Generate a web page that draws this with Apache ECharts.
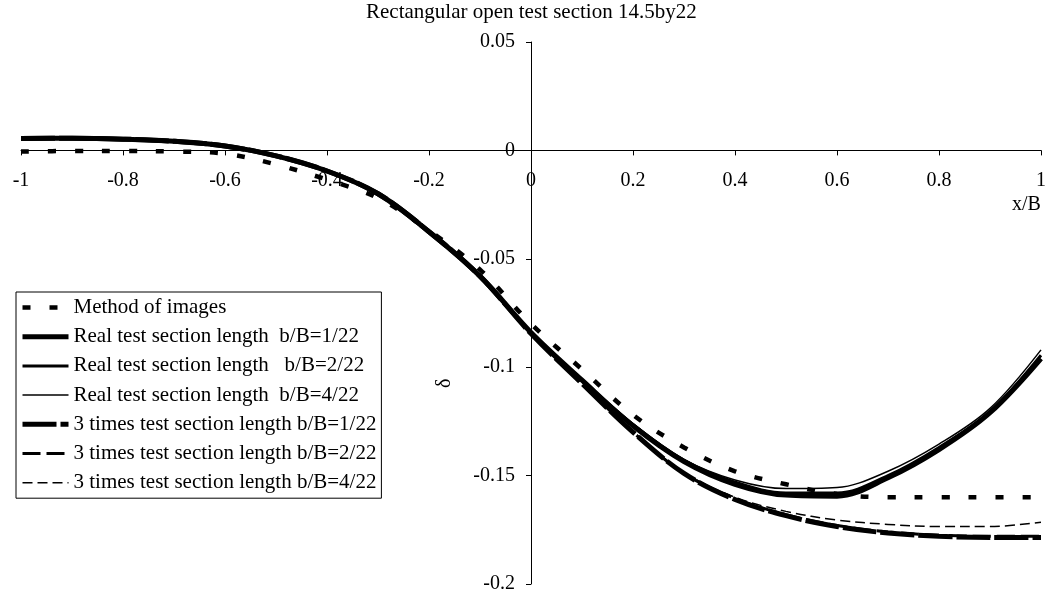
<!DOCTYPE html>
<html>
<head>
<meta charset="utf-8">
<script src="https://cdn.jsdelivr.net/npm/echarts@6/dist/echarts.min.js"></script>
<style>
html,body{margin:0;padding:0;background:#fff;}
#chart{width:1050px;height:597px;}
</style>
</head>
<body>
<div id="chart"></div>
<script>
const titleText = "Rectangular open test section 14.5by22";
const xValues = [-1, -0.9, -0.8, -0.7, -0.6, -0.5, -0.4, -0.3, -0.2, -0.1, 0, 0.1, 0.2, 0.3, 0.4, 0.5, 0.6, 0.7, 0.8, 0.9, 1];
const methodOfImages = [-0.0005, -0.0003, -0.0003, -0.0005, -0.0015, -0.0065, -0.0135, -0.0220, -0.0370, -0.0550, -0.0800, -0.1010, -0.1220, -0.1370, -0.1480, -0.1540, -0.1585, -0.1600, -0.1600, -0.1600, -0.1600];
const real1 = [0.0055, 0.0056, 0.0052, 0.0042, 0.0020, -0.0025, -0.0095, -0.0200, -0.0375, -0.0580, -0.0840, -0.1060, -0.1270, -0.1435, -0.1540, -0.1590, -0.1595, -0.1510, -0.1380, -0.1210, -0.0960];
const real2 = [0.0055, 0.0056, 0.0052, 0.0042, 0.0020, -0.0025, -0.0095, -0.0200, -0.0375, -0.0580, -0.0840, -0.1058, -0.1265, -0.1430, -0.1530, -0.1580, -0.1580, -0.1500, -0.1370, -0.1205, -0.0945];
const real4 = [0.0055, 0.0056, 0.0052, 0.0042, 0.0020, -0.0025, -0.0095, -0.0200, -0.0375, -0.0580, -0.0838, -0.1055, -0.1260, -0.1425, -0.1520, -0.1560, -0.1555, -0.1480, -0.1355, -0.1190, -0.0920];
const three1 = [0.0055, 0.0056, 0.0052, 0.0042, 0.0020, -0.0025, -0.0095, -0.0200, -0.0375, -0.0580, -0.0845, -0.1075, -0.1300, -0.1490, -0.1610, -0.1685, -0.1735, -0.1765, -0.1780, -0.1785, -0.1785];
const three2 = [0.0055, 0.0056, 0.0052, 0.0042, 0.0020, -0.0025, -0.0095, -0.0200, -0.0375, -0.0580, -0.0845, -0.1073, -0.1300, -0.1490, -0.1605, -0.1680, -0.1730, -0.1760, -0.1775, -0.1780, -0.1780];
const three4 = [0.0055, 0.0056, 0.0052, 0.0042, 0.0020, -0.0025, -0.0095, -0.0200, -0.0375, -0.0580, -0.0843, -0.1070, -0.1295, -0.1485, -0.1600, -0.1665, -0.1705, -0.1725, -0.1735, -0.1735, -0.1715];
const seriesNames = [
  "Method of images",
  "Real test section length  b/B=1/22",
  "Real test section length   b/B=2/22",
  "Real test section length  b/B=4/22",
  "3 times test section length b/B=1/22",
  "3 times test section length b/B=2/22",
  "3 times test section length b/B=4/22"
];
const xAxisName = "x/B";
const yAxisName = "δ";

const FONT = "Liberation Serif";
const W = 1050, H = 597;
const G = {left: 21, right: 9, top: 42, bottom: 13};
const X_MIN = -1, X_MAX = 1, Y_MIN = -0.2, Y_MAX = 0.05;
// axes cross at (0,0): shift the axes inward to the zero lines
const gw = W - G.left - G.right, gh = H - G.top - G.bottom;
const yAxisOffset = -gw * (0 - X_MIN) / (X_MAX - X_MIN);
const xAxisOffset = -gh * (0 - Y_MIN) / (Y_MAX - Y_MIN);

const styles = [
  {width: 4.5, type: [8, 19]},
  {width: 5, type: 'solid'},
  {width: 3, type: 'solid'},
  {width: 1.5, type: 'solid'},
  {width: 5, type: [34, 4]},
  {width: 3, type: [18, 6]},
  {width: 1.5, type: [10, 5]}
];
const zs = [10, 3, 4, 5, 3, 4, 5];
const values = [methodOfImages, real1, real2, real4, three1, three2, three4];

function pts(arr){ return xValues.map((x,i)=>[x, arr[i]]); }
const series = seriesNames.map((name, i) => ({
  name: name, type: 'line', data: pts(values[i]), symbol: 'none', smooth: 0.35,
  lineStyle: {color: '#000', width: styles[i].width, type: styles[i].type, cap: 'butt'},
  itemStyle: {color: '#000'}, z: zs[i]
}));
const legendData = seriesNames.map((name, i) => ({
  name: name,
  itemStyle: {opacity: 0},
  lineStyle: {color: '#000', width: styles[i].width, type: styles[i].type, cap: 'butt'}
}));

const chart = echarts.init(document.getElementById('chart'));
chart.setOption({
  animation: false,
  backgroundColor: '#fff',
  title: {
    text: titleText, left: 361, top: -3,
    textStyle: {fontFamily: FONT, fontSize: 21, fontWeight: 'normal', color: '#000'}
  },
  grid: {left: G.left, right: G.right, top: G.top, bottom: G.bottom, containLabel: false, outerBoundsMode: 'none'},
  xAxis: {
    type: 'value', min: X_MIN, max: X_MAX, interval: 0.2,
    position: 'bottom', offset: xAxisOffset,
    axisLine: {onZero: false, lineStyle: {color: '#000', width: 1}},
    axisTick: {show: true, length: 5, lineStyle: {color: '#000'}},
    axisLabel: {fontFamily: FONT, fontSize: 20, color: '#000', margin: 20},
    splitLine: {show: false}
  },
  yAxis: {
    type: 'value', min: Y_MIN, max: Y_MAX, interval: 0.05,
    position: 'left', offset: yAxisOffset,
    axisLine: {onZero: false, lineStyle: {color: '#000', width: 1}},
    axisTick: {show: true, length: 5, lineStyle: {color: '#000'}},
    axisLabel: {fontFamily: FONT, fontSize: 20, color: '#000', margin: 16},
    splitLine: {show: false}
  },
  legend: {
    orient: 'vertical', left: 16, top: 292,
    backgroundColor: '#fff', borderColor: '#000', borderWidth: 1, borderRadius: 0,
    padding: [5, 5, 5, 4], itemWidth: 46, itemHeight: 12, itemGap: 8.2,
    itemStyle: {opacity: 0},
    textStyle: {fontFamily: FONT, fontSize: 21, color: '#000', lineHeight: 21},
    data: legendData
  },
  graphic: [
    {type: 'text', left: 1012, top: 195, style: {text: xAxisName, font: '20px "Liberation Serif"', fill: '#000'}},
    {type: 'text', x: 435, y: 388, rotation: Math.PI/2, style: {text: yAxisName, font: '20px "Liberation Serif"', fill: '#000'}}
  ],
  series: series
});
</script>
</body>
</html>
